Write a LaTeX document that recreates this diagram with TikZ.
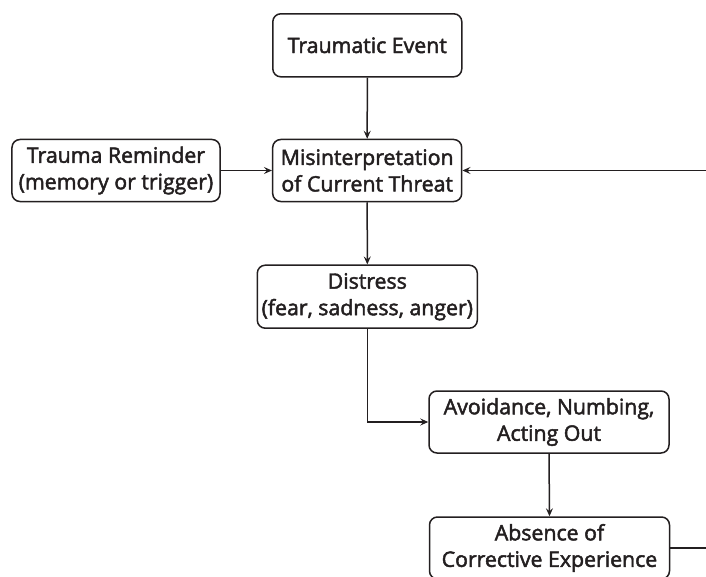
\documentclass[tikz,border=0pt]{standalone}
\usepackage{fontspec}
\newfontfamily\boxfont{Open Sans}[UprightFeatures={FakeBold=2.2}]
\usetikzlibrary{arrows.meta}
\definecolor{ink}{RGB}{35,31,32}
\begin{document}
\begin{tikzpicture}[x=1bp,y=-1bp,
  box/.style={draw=ink, line width=1.5bp, rounded corners=8bp, align=center,
    inner sep=0pt, text=ink, font=\boxfont\fontsize{21.3bp}{26.5bp}\selectfont},
  link/.style={draw=ink, line width=1.5bp, -{Stealth[length=8bp,width=7bp,inset=3bp]}}]
\useasboundingbox (0,0) rectangle (706,577);
\clip (0,0) rectangle (706,577);

% boxes of the cycle
\node[box, minimum width=189bp, minimum height=63bp] (event) at (367.3,45.3) {Traumatic Event};
\node[box, minimum width=208bp, minimum height=62bp] (reminder) at (116,170.5) {Trauma Reminder\\(memory or trigger)};
\node[box, minimum width=189bp, minimum height=62bp] (misint) at (367.2,170.5) {Misinterpretation\\of Current Threat};
\node[box, minimum width=220bp, minimum height=63bp] (distress) at (367.3,296.7) {Distress\\(fear, sadness, anger)};
\node[box, minimum width=240bp, minimum height=62bp] (avoid) at (549,422) {Avoidance, Numbing,\\Acting Out};
\node[box, minimum width=240bp, minimum height=62bp] (absence) at (549.5,548) {Absence of\\Corrective Experience};

% connectors
\draw[link] (event.south) -- (misint.north);
\draw[link] (reminder.east) -- (misint.west);
\draw[link] (misint.south) -- (distress.north);
\draw[link] (distress.south) |- (avoid.west);
\draw[link] (avoid.south) -- (absence.north);
\draw[link] (absence.east) -- ++(60,0) |- (misint.east);
\end{tikzpicture}
\end{document}
